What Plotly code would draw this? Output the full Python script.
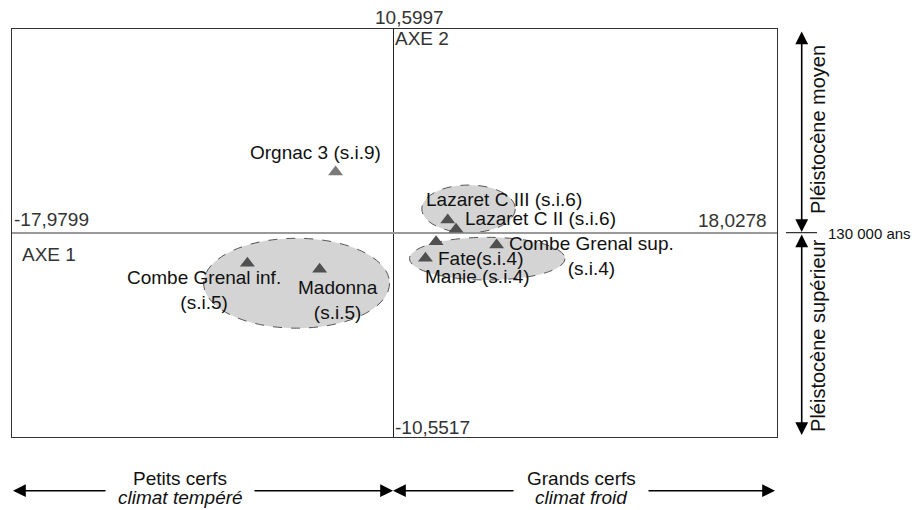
import plotly.graph_objects as go

# ---- data ----
sites = ["Orgnac 3", "Combe Grenal inf.", "Madonna", "Lazaret C III",
         "Lazaret C II", "Manie", "Fate", "Combe Grenal sup."]
axe1 = [-2.75, -6.90, -3.50, 2.53, 2.92, 1.98, 1.48, 4.83]
axe2 = [3.19, -1.54, -1.86, 0.70, 0.22, -0.43, -1.29, -0.60]
labels = ["Orgnac 3 (s.i.9)", "Combe Grenal inf.<br>(s.i.5)", "Madonna<br>(s.i.5)",
          "Lazaret C III (s.i.6)", "Lazaret C II (s.i.6)", "Manie (s.i.4)",
          "Fate(s.i.4)", "Combe Grenal sup.<br>(s.i.4)"]
x_range = [-17.9799, 18.0278]
y_range = [-10.5517, 10.5997]
x_tick_labels = ["-17,9799", "18,0278"]
y_tick_labels = ["-10,5517", "10,5997"]
# groups (ellipses): [x0, x1, y0, y1]
groups = [[-8.96, -0.21, -4.91, -0.25],
          [1.31, 5.71, 0.04, 2.51],
          [0.73, 8.05, -2.41, -0.20]]

# label offsets in pixels (style)
shifts = [(-20, 19), (-43, -27), (18, -31), (56, 20), (84, 11), (41, -35), (56, 0), (95, -11)]
mcolors = ["#7a7a7a"] + ["#505050"] * 7

FONT = "Liberation Sans, Arial, sans-serif"
fig = go.Figure()

for g in groups:
    fig.add_shape(type="circle", xref="x", yref="y", x0=g[0], x1=g[1], y0=g[2], y1=g[3],
                  fillcolor="#d4d4d4", line=dict(color="#555555", width=1, dash="dash"),
                  layer="below")

fig.add_trace(go.Scatter(x=axe1, y=axe2, mode="markers",
                         marker=dict(symbol="triangle-up", size=13, color=mcolors),
                         text=sites, hoverinfo="text", showlegend=False))

ann = []
for xv, yv, lab, (dx, dy) in zip(axe1, axe2, labels, shifts):
    ann.append(dict(x=xv, y=yv, xref="x", yref="y", text=lab, showarrow=False,
                    xshift=dx, yshift=dy, xanchor="center", yanchor="middle",
                    font=dict(size=19, color="#111111", family=FONT)))

axfont = dict(size=19, color="#333333", family=FONT)
ann += [
    dict(x=0, y=0, xref="paper", yref="y", text=x_tick_labels[0], showarrow=False,
         xanchor="left", yanchor="middle", xshift=0, yshift=14, font=axfont),
    dict(x=0, y=0, xref="paper", yref="y", text="AXE 1", showarrow=False,
         xanchor="left", yanchor="middle", xshift=8, yshift=-21, font=axfont),
    dict(x=1, y=0, xref="paper", yref="y", text=x_tick_labels[1], showarrow=False,
         xanchor="right", yanchor="middle", xshift=-8, yshift=13, font=axfont),
    dict(x=0, y=1, xref="x", yref="paper", text=y_tick_labels[1], showarrow=False,
         xanchor="center", yanchor="middle", xshift=16, yshift=12, font=axfont),
    dict(x=0, y=1, xref="x", yref="paper", text="AXE 2", showarrow=False,
         xanchor="left", yanchor="middle", xshift=-1, yshift=-9, font=axfont),
    dict(x=0, y=0, xref="x", yref="paper", text=y_tick_labels[0], showarrow=False,
         xanchor="left", yanchor="middle", xshift=-1, yshift=10, font=axfont),
]

# right side vertical arrows
arrow_style = dict(showarrow=True, arrowhead=2, arrowsize=1.6, arrowwidth=1.6,
                   arrowcolor="#000000", arrowside="end+start", text="",
                   axref="pixel", ayref="pixel", xref="paper", yref="paper")
ann.append(dict(x=1.0323, y=0.5025, ax=0, ay=-202, **arrow_style))
ann.append(dict(x=1.0323, y=0.0049, ax=0, ay=-202, **arrow_style))
ann.append(dict(x=1.064, y=0.5, xref="paper", yref="paper", text="130 000 ans",
                showarrow=False, xanchor="left", yanchor="middle",
                font=dict(size=15, color="#111111", family=FONT)))
ann.append(dict(x=1.0535, y=0.755, xref="paper", yref="paper", text="Pléistocène moyen",
                showarrow=False, textangle=-90, xanchor="center", yanchor="middle",
                font=dict(size=20, color="#111111", family=FONT)))
ann.append(dict(x=1.0535, y=0.25, xref="paper", yref="paper", text="Pléistocène supérieur",
                showarrow=False, textangle=-90, xanchor="center", yanchor="middle",
                font=dict(size=20, color="#111111", family=FONT)))

# bottom horizontal arrows (tips: left 13, 393 ; right 393, 775 px)
def px(p):
    return (p - 12) / 765.0
yb = -(490.7 - 437) / 408.0
seg = dict(showarrow=True, arrowhead=2, arrowsize=1.6, arrowwidth=1.6,
           arrowcolor="#000000", text="", axref="pixel", ayref="pixel",
           xref="paper", yref="paper")
ann.append(dict(x=px(13), y=yb, ax=94, ay=0, **seg))
ann.append(dict(x=px(393), y=yb, ax=-140, ay=0, **seg))
ann.append(dict(x=px(393), y=yb, ax=122, ay=0, **seg))
ann.append(dict(x=px(775), y=yb, ax=-128, ay=0, **seg))
botfont = dict(size=19, color="#111111", family=FONT)
ann.append(dict(x=px(180), y=-(478 - 437) / 408.0, xref="paper", yref="paper",
                text="Petits cerfs", showarrow=False, xanchor="center", yanchor="middle",
                font=botfont))
ann.append(dict(x=px(180), y=-(498 - 437) / 408.0, xref="paper", yref="paper",
                text="<i>climat tempéré</i>", showarrow=False, xanchor="center", yanchor="middle",
                font=botfont))
ann.append(dict(x=px(581), y=-(478 - 437) / 408.0, xref="paper", yref="paper",
                text="Grands cerfs", showarrow=False, xanchor="center", yanchor="middle",
                font=botfont))
ann.append(dict(x=px(581), y=-(498 - 437) / 408.0, xref="paper", yref="paper",
                text="<i>climat froid</i>", showarrow=False, xanchor="center", yanchor="middle",
                font=botfont))

fig.add_shape(type="line", xref="paper", yref="paper", x0=px(786), x1=px(817),
              y0=0.5007, y1=0.5007, line=dict(color="#000000", width=1))

# page body has an 8px margin: figure is 913x502 so that it ends at the window edge
fig.update_layout(
    width=913, height=502,
    margin=dict(l=4, r=144, t=21, b=73),
    paper_bgcolor="white", plot_bgcolor="white",
    annotations=ann,
    xaxis=dict(range=x_range, showgrid=False, showticklabels=False, ticks="",
               zeroline=True, zerolinecolor="#222222", zerolinewidth=1,
               showline=True, mirror=True, linecolor="#333333", linewidth=1, fixedrange=True),
    yaxis=dict(range=y_range, showgrid=False, showticklabels=False, ticks="",
               zeroline=True, zerolinecolor="#999999", zerolinewidth=1.5,
               showline=True, mirror=True, linecolor="#333333", linewidth=1, fixedrange=True),
)

fig.write_html("out.html")
